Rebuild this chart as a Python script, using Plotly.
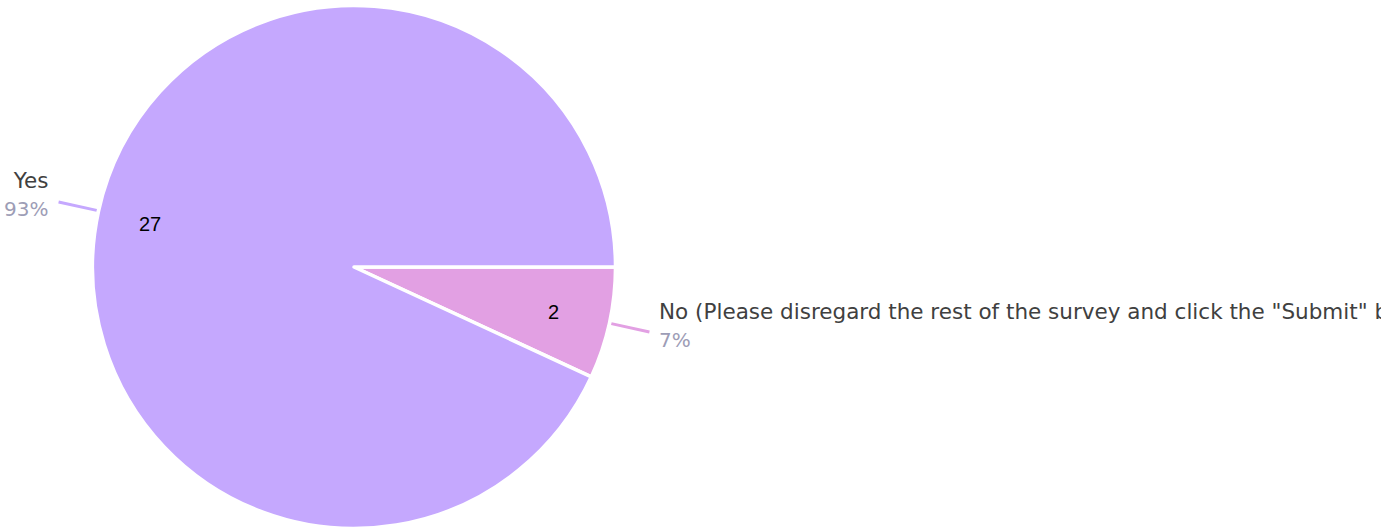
import math
import plotly.graph_objects as go

labels = ['No (Please disregard the rest of the survey and click the "Submit" button)', "Yes"]
values = [2, 27]
colors = ["#e2a0e3", "#c5a8fe"]

W, H = 1381, 529
CX, CY, R = 354, 267, 261.5

def px(x):
    return x / W

def py(y):
    return 1 - y / H

fig = go.Figure(go.Pie(
    labels=labels, values=values, sort=False, direction="clockwise", rotation=90,
    marker=dict(colors=colors, line=dict(color="white", width=3.5)),
    textinfo="none", hoverinfo="label+value+percent", showlegend=False,
    domain=dict(x=[px(CX - R), px(CX + R)], y=[py(CY + R), py(CY - R)]),
))

total = sum(values)
annotations, shapes = [], []
cum = 0.0
font_fam = "DejaVu Sans, Arial, sans-serif"
for lab, val, col in zip(labels, values, colors):
    span = 360.0 * val / total
    mid = math.radians(-(cum + span / 2))  # clockwise from 3 o'clock
    cum += span
    c, s = math.cos(mid), math.sin(mid)
    annotations.append(dict(x=px(CX + 0.79 * R * c - 2), y=py(CY - 0.79 * R * s + 1), xref="paper", yref="paper",
                            text=str(val), showarrow=False,
                            font=dict(family="Liberation Sans, Arial", size=20, color="#000"),
                            xanchor="center", yanchor="middle"))
    x1, y1 = CX + (R + 2) * c, CY - (R + 2) * s
    x2, y2 = CX + (R + 41) * c, CY - (R + 41) * s
    shapes.append(dict(type="line", xref="paper", yref="paper", x0=px(x1), y0=py(y1), x1=px(x2), y1=py(y2),
                       line=dict(color=col, width=3)))
    right = c >= 0
    tx = x2 + 8 if right else x2 - 9
    anchor = "left" if right else "right"
    pct = f"{round(100 * val / total)}%"
    annotations.append(dict(x=px(tx), y=py(y2 - 7), xref="paper", yref="paper",
                            text=f"{lab}<br><span style='color:#9d9db6;font-size:20px'>{pct}</span>",
                            showarrow=False, align=anchor,
                            font=dict(family=font_fam, size=21.5, color="#404040"),
                            xanchor=anchor, yanchor="middle"))

fig.update_layout(width=W, height=H, margin=dict(l=0, r=0, t=0, b=0), paper_bgcolor="white",
                  plot_bgcolor="white", annotations=annotations, shapes=shapes)
fig.write_html("out.html", config={"displayModeBar": False},
               post_script="document.body.style.margin='0';document.body.style.overflow='hidden';")
